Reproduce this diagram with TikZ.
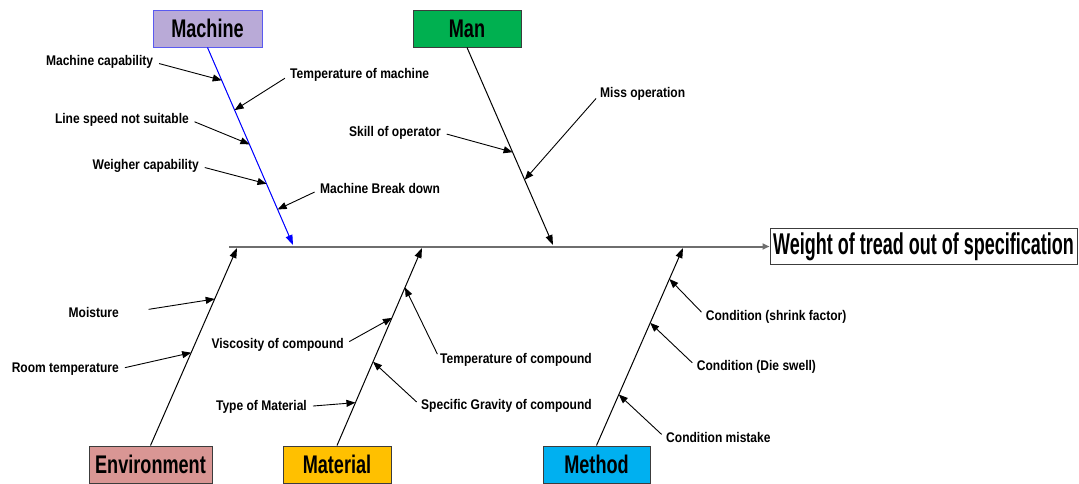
\documentclass[tikz,border=0pt]{standalone}
\usepackage{fontspec}
\setmainfont{Liberation Sans}
\newfontfamily\lblf[FakeStretch=0.86]{Liberation Sans}
\newfontfamily\ttlf[FakeStretch=0.71]{Liberation Sans}
\newfontfamily\efff[FakeStretch=0.6]{Liberation Sans}
\usetikzlibrary{arrows.meta,calc}
\definecolor{machfill}{RGB}{185,170,215}
\definecolor{machdraw}{RGB}{90,90,240}
\definecolor{bluebone}{RGB}{0,0,255}
\definecolor{manfill}{RGB}{0,176,80}
\definecolor{envfill}{RGB}{217,150,148}
\definecolor{matfill}{RGB}{255,192,0}
\definecolor{metfill}{RGB}{0,176,240}
\definecolor{boxdraw}{RGB}{60,60,60}
\definecolor{spinecol}{RGB}{110,110,110}
\tikzset{
  lbl/.style={font=\lblf\bfseries\fontsize{14}{16}\selectfont, inner sep=0pt, text height=10pt, text depth=3pt},
  cat/.style={draw=boxdraw, line width=1pt, minimum width=108pt, minimum height=37pt, inner sep=0pt,
    font=\ttlf\bfseries\fontsize{25.5}{28}\selectfont},
  effbox/.style={draw=boxdraw, line width=1pt, fill=white, minimum width=307pt, minimum height=36pt, inner sep=0pt,
    font=\efff\bfseries\fontsize{30}{32}\selectfont},
  bone/.style={line width=1pt, -{Triangle[length=10pt,width=7pt]}},
  sub/.style={line width=0.9pt, shorten <=6pt, -{Triangle[length=9pt,width=7pt]}},
  spine/.style={line width=2pt, draw=spinecol, -{Triangle[length=7pt,width=6pt]}},
}
\begin{document}
\begin{tikzpicture}[x=1pt,y=-1pt]
\useasboundingbox (0,0) rectangle (1079,483);

% category boxes
\node[cat, fill=machfill, draw=machdraw, minimum width=109pt] (machine) at (207.5,28.5) {Machine};
\node[cat, fill=manfill] (man) at (467,28.5) {Man};
\node[cat, fill=envfill, minimum width=123pt] (env) at (150.5,464.5) {Environment};
\node[cat, fill=matfill] (mat) at (337,464.5) {Material};
\node[cat, fill=metfill, minimum width=107pt] (met) at (596.5,464.5) {Method};
\node[effbox] (effect) at (923.5,246.5) {Weight of tread out of specification};

% spine
\coordinate (spl) at (229,246.5);
\draw[spine] (spl) -- (effect.west);

% bone ends on spine
\coordinate (ms) at (293,245);
\coordinate (mans) at (553,245);
\coordinate (envs) at (237,248);
\coordinate (mats) at (422,248);
\coordinate (mets) at (683,248);

\draw[bone, draw=bluebone, fill=bluebone] (machine.south) -- (ms);
\draw[bone] (man.south) -- (mans);
\draw[bone] (env.north) -- (envs);
\draw[bone] (mat.north) -- (mats);
\draw[bone] (met.north) -- (mets);

% points on bones
\coordinate (m1) at ($(machine.south)!0.166!(ms)$);
\coordinate (m2) at ($(machine.south)!0.317!(ms)$);
\coordinate (m3) at ($(machine.south)!0.49!(ms)$);
\coordinate (m4) at ($(machine.south)!0.69!(ms)$);
\coordinate (m5) at ($(machine.south)!0.82!(ms)$);
\coordinate (n1) at ($(man.south)!0.53!(mans)$);
\coordinate (n2) at ($(man.south)!0.67!(mans)$);
\coordinate (e1) at ($(env.north)!0.742!(envs)$);
\coordinate (e2) at ($(env.north)!0.47!(envs)$);
\coordinate (t1) at ($(mat.north)!0.646!(mats)$);
\coordinate (t2) at ($(mat.north)!0.217!(mats)$);
\coordinate (t3) at ($(mat.north)!0.80!(mats)$);
\coordinate (t4) at ($(mat.north)!0.424!(mats)$);
\coordinate (d1) at ($(met.north)!0.843!(mets)$);
\coordinate (d2) at ($(met.north)!0.621!(mets)$);
\coordinate (d3) at ($(met.north)!0.258!(mets)$);

% labels
\node[lbl, anchor=east] (lmc) at (153.3,62) {Machine capability};
\node[lbl, anchor=west] (ltm) at (290,75) {Temperature of machine};
\node[lbl, anchor=east] (lls) at (189,119.5) {Line speed not suitable};
\node[lbl, anchor=east] (lwc) at (199,166) {Weigher capability};
\node[lbl, anchor=west] (lmb) at (320,189.5) {Machine Break down};
\node[lbl, anchor=east] (lso) at (441,132.5) {Skill of operator};
\node[lbl, anchor=west] (lmo) at (600,94) {Miss operation};
\node[lbl, anchor=east] (lmoi) at (119,314) {Moisture};
\node[lbl, anchor=east] (lrt) at (119,369) {Room temperature};
\node[lbl, anchor=east] (lvc) at (344,344.5) {Viscosity of compound};
\node[lbl, anchor=east] (lty) at (307,406.5) {Type of Material};
\node[lbl, anchor=west] (ltc) at (440,359.5) {Temperature of compound};
\node[lbl, anchor=west] (lsg) at (421,406) {Specific Gravity of compound};
\node[lbl, anchor=west] (lcs) at (705.7,316.5) {Condition (shrink factor)};
\node[lbl, anchor=west] (lcd) at (696.7,367) {Condition (Die swell)};
\node[lbl, anchor=west] (lcm) at (666,438.5) {Condition mistake};

% cause arrows
\draw[sub] (lmc.east) -- (m1);
\draw[sub] (ltm.west) -- (m2);
\draw[sub] (lls.east) -- (m3);
\draw[sub] (lwc.east) -- (m4);
\draw[sub] (lmb.west) -- (m5);
\draw[sub] (lso.east) -- (n1);
\draw[sub] (lmo.west) -- (n2);
\draw[sub, shorten <=30pt] (lmoi.east) -- (e1);
\draw[sub] (lrt.east) -- (e2);
\draw[sub] (lvc.east) -- (t1);
\draw[sub] (lty.east) -- (t2);
\draw[sub] (ltc.west) -- (t3);
\draw[sub] (lsg.west) -- (t4);
\draw[sub] (lcs.west) -- (d1);
\draw[sub] (lcd.west) -- (d2);
\draw[sub] (lcm.west) -- (d3);
\end{tikzpicture}
\end{document}
